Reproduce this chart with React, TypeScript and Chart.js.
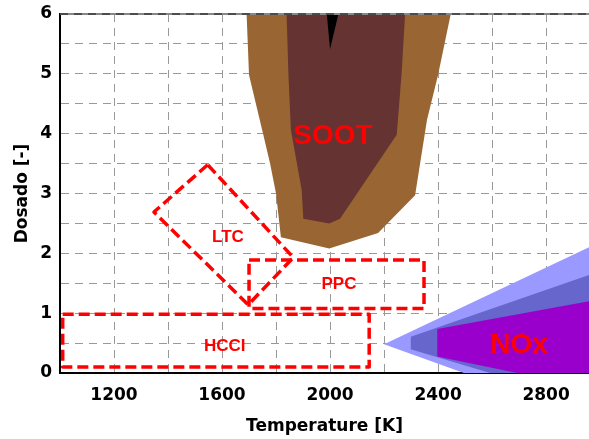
import { useEffect, useRef } from 'react';
import { Chart, registerables } from 'chart.js';

Chart.register(...registerables);

// ---- axis ticks ----
const xGridTicks = [1000, 1200, 1400, 1600, 1800, 2000, 2200, 2400, 2600, 2800];
const xLabelTicks = [1200, 1600, 2000, 2400, 2800];
const yGridTicks = [0, 0.5, 1, 1.5, 2, 2.5, 3, 3.5, 4, 4.5, 5, 5.5, 6];
const yLabelTicks = [0, 1, 2, 3, 4, 5, 6];

// ---- regions: [Temperature K, Dosado] ----
const sootOuter = [
  [1691, 6], [1700, 4.98], [1752, 4.0], [1778, 3.5], [1800, 3.0], [1818, 2.27],
  [1997, 2.08], [2178, 2.34], [2315, 2.97], [2359, 4.23], [2400, 4.98], [2447, 6], [1691, 6],
];
const sootInner = [
  [1839, 6], [1846, 4.98], [1855, 4.06], [1895, 3.06], [1901, 2.58], [1997, 2.5],
  [2037, 2.58], [2247, 3.98], [2265, 5.0], [2278, 6], [1839, 6],
];
const sootCore = [[1988, 6], [2000, 5.41], [2031, 6], [1988, 6]];

const noxOuter = [[2200, 0.48], [3000, 2.19], [3000, 0], [2496, 0], [2200, 0.48]];
const noxMiddle = [[2299, 0.607], [3000, 1.7], [3000, 0], [2593, 0], [2299, 0.396], [2299, 0.607]];
const noxInner = [[2397, 0.735], [3000, 1.234], [3000, 0], [2693, 0], [2397, 0.276], [2397, 0.735]];

const ltcBox = [[1547, 3.48], [1348, 2.69], [1697, 1.14], [1864, 1.93], [1547, 3.48]];
const ppcBox = [[1700, 1.89], [2348, 1.89], [2348, 1.08], [1700, 1.08], [1700, 1.89]];
const hcciBox = [[1010, 0.98], [2145, 0.98], [2145, 0.1], [1010, 0.1], [1010, 0.98]];

// ---- region labels ----
const regionNames = ['SOOT', 'LTC', 'PPC', 'HCCI', 'NOx'];
const regionLabelT = [2011, 1622, 2033, 1610, 2700];
const regionLabelD = [4.0, 2.29, 1.5, 0.47, 0.5];

const labelSizes: Record<string, number> = { SOOT: 28, LTC: 17, PPC: 17, HCCI: 17, NOx: 28 };

const toPts = (arr: number[][]) => arr.map(([x, y]) => ({ x, y }));

export default function App() {
  const ref = useRef<HTMLCanvasElement>(null);

  useEffect(() => {
    if (!ref.current) return;

    const poly = (pts: number[][], color: string, order: number) => ({
      data: toPts(pts),
      showLine: true,
      fill: 'shape',
      backgroundColor: color,
      borderColor: 'transparent',
      borderWidth: 0,
      pointRadius: 0,
      pointHoverRadius: 0,
      tension: 0,
      clip: 0,
      order,
    });
    const dashed = (pts: number[][], order: number) => ({
      data: toPts(pts),
      showLine: true,
      fill: false,
      borderColor: '#ff0000',
      backgroundColor: '#ff0000',
      borderWidth: 3.5,
      borderDash: [11, 5],
      borderJoinStyle: 'round',
      pointRadius: 0,
      pointHoverRadius: 0,
      tension: 0,
      order,
    });

    const frame = {
      id: 'frame',
      afterDraw(chart: any) {
        const { ctx, chartArea, scales } = chart;
        ctx.save();
        // top frame line
        ctx.strokeStyle = '#888888';
        ctx.lineWidth = 2;
        ctx.beginPath();
        ctx.moveTo(chartArea.left, chartArea.top);
        ctx.lineTo(chartArea.right, chartArea.top);
        ctx.stroke();
        ctx.strokeStyle = '#111111';
        ctx.lineWidth = 1;
        ctx.setLineDash([8, 6]);
        ctx.beginPath();
        ctx.moveTo(chartArea.left, chartArea.top);
        ctx.lineTo(chartArea.right, chartArea.top);
        ctx.stroke();
        ctx.setLineDash([]);
        // region labels
        ctx.fillStyle = '#ff0000';
        ctx.textAlign = 'center';
        ctx.textBaseline = 'alphabetic';
        regionNames.forEach((name, i) => {
          const size = labelSizes[name];
          ctx.font = `bold ${size}px "Liberation Sans", Arial, sans-serif`;
          const px = scales.x.getPixelForValue(regionLabelT[i]);
          const py = scales.y.getPixelForValue(regionLabelD[i]);
          ctx.fillText(name, px, py + size * 0.358);
        });
        ctx.restore();
      },
    };

    const tickFont = { family: '"DejaVu Sans", sans-serif', size: 17, weight: 'bold' as const };

    const chart = new Chart(ref.current, {
      type: 'scatter',
      data: {
        datasets: [
          poly(sootOuter, '#996633', 10),
          poly(sootInner, '#663333', 9),
          poly(sootCore, '#000000', 8),
          poly(noxOuter, '#9999ff', 7),
          poly(noxMiddle, '#6666cc', 6),
          poly(noxInner, '#9900cc', 5),
          dashed(ltcBox, 2),
          dashed(ppcBox, 1),
          dashed(hcciBox, 0),
        ] as any,
      },
      options: {
        animation: false,
        responsive: false,
        events: [],
        layout: { padding: { top: 14, right: 0, left: 0, bottom: 0 } },
        plugins: {
          legend: { display: false },
          tooltip: { enabled: false },
        },
        scales: {
          x: {
            type: 'linear',
            min: 1000,
            max: 2959,
            afterBuildTicks: (scale: any) => {
              scale.ticks = xGridTicks.map((v) => ({ value: v }));
            },
            afterFit: (scale: any) => {
              scale.height = 66;
              scale.paddingLeft = 0;
              scale.paddingRight = 0;
              scale.paddingTop = 0;
              scale.paddingBottom = 0;
            },
            ticks: {
              padding: 12,
              maxRotation: 0,
              autoSkip: false,
              color: '#000000',
              font: tickFont,
              callback: (v: any) => (xLabelTicks.includes(Number(v)) ? String(v) : ''),
            },
            grid: { color: '#999999', lineWidth: 1, drawTicks: false },
            border: { display: true, color: '#000000', width: 2, dash: [8, 6] },
            title: {
              display: true,
              text: 'Temperature [K]',
              color: '#000000',
              font: tickFont,
              padding: { top: 0, bottom: 2 },
            },
          },
          y: {
            type: 'linear',
            min: 0,
            max: 6,
            afterBuildTicks: (scale: any) => {
              scale.ticks = yGridTicks.map((v) => ({ value: v }));
            },
            afterFit: (scale: any) => {
              scale.width = 60;
              scale.paddingLeft = 0;
              scale.paddingRight = 0;
              scale.paddingTop = 0;
              scale.paddingBottom = 0;
            },
            ticks: {
              padding: 8,
              autoSkip: false,
              color: '#000000',
              font: tickFont,
              callback: (v: any) => (yLabelTicks.includes(Number(v)) ? String(v) : ''),
            },
            grid: { color: '#999999', lineWidth: 1, drawTicks: false },
            border: { display: true, color: '#000000', width: 2, dash: [8, 6] },
            title: {
              display: true,
              text: 'Dosado [-]',
              color: '#000000',
              font: tickFont,
              padding: { top: 12, bottom: 0 },
            },
          },
        },
      } as any,
      plugins: [frame],
    });

    return () => chart.destroy();
  }, []);

  return (
    <div style={{ position: 'fixed', left: 0, top: 0, width: 589, height: 439, background: '#ffffff' }}>
      <canvas ref={ref} width={589} height={439} />
    </div>
  );
}
